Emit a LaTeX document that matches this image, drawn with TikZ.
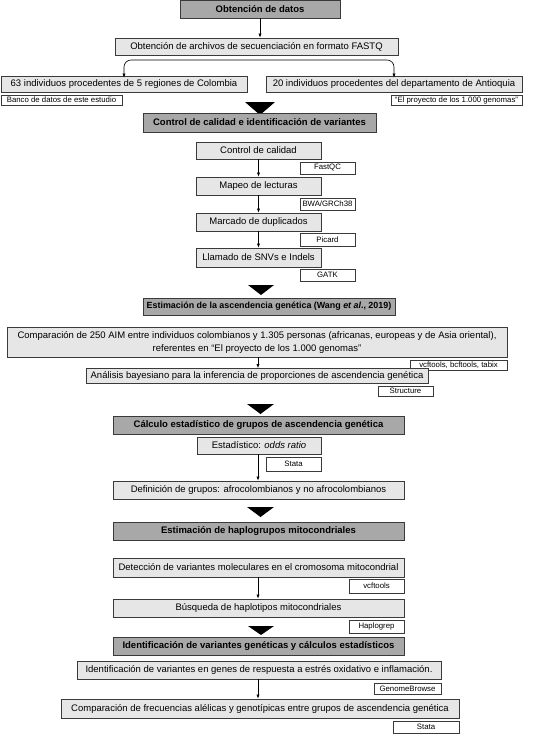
\documentclass[tikz,border=0pt]{standalone}
\usepackage{fontspec}
\setmainfont{Liberation Sans}
\usetikzlibrary{arrows.meta}
\definecolor{titlegray}{HTML}{A8A8A8}
\definecolor{procgray}{HTML}{E6E6E6}
\definecolor{edgegray}{HTML}{3A3A3A}
\begin{document}
\begin{tikzpicture}[x=1pt,y=-1pt,
  base/.style={draw=edgegray, line width=0.8pt, inner sep=0pt, align=center, anchor=center},
  titlebox/.style={base, fill=titlegray, font=\fontsize{9.5}{11}\selectfont\bfseries},
  procbox/.style={base, fill=procgray, font=\fontsize{9.5}{11}\selectfont},
  toolbox/.style={base, fill=white, line width=0.6pt, font=\fontsize{7.8}{9}\selectfont},
  conn/.style={draw=black, line width=0.6pt, -{Latex[length=4pt,width=3.2pt]}},
  bigarrow/.style={fill=black}
]
\useasboundingbox (0,0) rectangle (540,734);
\fill[white] (0,0) rectangle (540,734);

% Section 1
\node[titlebox, minimum width=160pt, minimum height=17.5pt] (T1) at (260,9.25) {Obtención de datos};
\node[procbox, minimum width=283pt, minimum height=17pt] (P1) at (256.5,46.5) {Obtención de archivos de secuenciación en formato FASTQ};
\node[procbox, minimum width=246pt, minimum height=16pt] (P2) at (124,84) {63 individuos procedentes de 5 regiones de Colombia};
\node[procbox, minimum width=256pt, minimum height=16pt] (P3) at (394,84) {20 individuos procedentes del departamento de Antioquia};
\node[toolbox, minimum width=121pt, minimum height=10pt] (B1) at (61.5,100) {Banco de datos de este estudio};
\node[toolbox, minimum width=131pt, minimum height=10pt] (B2) at (456.5,100) {“El proyecto de los 1.000 genomas”};
\coordinate (split) at (260,60);
\draw[conn] (T1.south) -- (T1.south |- P1.north);
\draw[draw=black, line width=0.6pt, {Latex[length=4pt,width=3.2pt]}-{Latex[length=4pt,width=3.2pt]}, rounded corners=7pt] ([yshift=-2pt]P2.north) |- (split) -| ([yshift=-2pt]P3.north);
\fill[bigarrow] (245,102) -- (275,102) -- (260,115) -- cycle;

% Section 2
\node[titlebox, minimum width=233pt, minimum height=19pt] (T2) at (259.5,122.5) {Control de calidad e identificación de variantes};
\node[procbox, minimum width=125pt, minimum height=17pt] (P4) at (258.5,150.5) {Control de calidad};
\node[toolbox, minimum width=55pt, minimum height=12pt] (B3) at (327.5,168) {FastQC};
\node[procbox, minimum width=125pt, minimum height=18pt] (P5) at (258.5,186) {Mapeo de lecturas};
\node[toolbox, minimum width=55pt, minimum height=12pt] (B4) at (327.5,204) {BWA/GRCh38};
\node[procbox, minimum width=125pt, minimum height=18pt] (P6) at (258.5,222) {Marcado de duplicados};
\node[toolbox, minimum width=55pt, minimum height=13pt] (B5) at (327.5,239.5) {Picard};
\node[procbox, minimum width=125pt, minimum height=19pt] (P7) at (258.5,257.5) {Llamado de SNVs e Indels};
\node[toolbox, minimum width=55pt, minimum height=12pt] (B6) at (327.5,275) {GATK};
\draw[conn] (P4.south) -- (P5.north);
\draw[conn] (P5.south) -- (P6.north);
\draw[conn] (P6.south) -- (P7.north);
\fill[bigarrow] (248,285) -- (274,285) -- (261,295) -- cycle;

% Section 3
\node[titlebox, minimum width=252pt, minimum height=17pt, font=\fontsize{8.9}{11}\selectfont\bfseries] (T3) at (269,306.5) {Estimación de la ascendencia genética (Wang \textit{et al}., 2019)};
\node[procbox, minimum width=500pt, minimum height=30pt, font=\fontsize{9.5}{13}\selectfont] (P8) at (257,342) {Comparación de 250 AIM entre individuos colombianos y 1.305 personas (africanas, europeas y de Asia oriental),\\referentes en “El proyecto de los 1.000 genomas”};
\node[toolbox, minimum width=97pt, minimum height=10pt] (B7) at (458.5,365) {vcftools, bcftools, tabix};
\node[procbox, minimum width=342pt, minimum height=15pt] (P9) at (257,376) {Análisis bayesiano para la inferencia de proporciones de ascendencia genética};
\node[toolbox, minimum width=55pt, minimum height=10pt] (B8) at (405.5,391) {Structure};
\draw[conn] (P8.south -| 258,0) -- (P9.north -| 258,0);
\fill[bigarrow] (247,404) -- (274,404) -- (260.5,414) -- cycle;

% Section 4
\node[titlebox, minimum width=291pt, minimum height=18pt] (T4) at (258.5,425) {Cálculo estadístico de grupos de ascendencia genética};
\node[procbox, minimum width=124pt, minimum height=17pt] (P10) at (259,445.5) {Estadístico: \textit{odds ratio}};
\node[toolbox, minimum width=55pt, minimum height=14pt] (B9) at (293.5,464) {Stata};
\node[procbox, minimum width=291pt, minimum height=18pt] (P11) at (258.5,490) {Definición de grupos: afrocolombianos y no afrocolombianos};
\draw[conn] (P10.south -| 258,0) -- (P11.north -| 258,0);
\fill[bigarrow] (247,507) -- (274,507) -- (260.5,517) -- cycle;

% Section 5
\node[titlebox, minimum width=291pt, minimum height=18pt] (T5) at (258.5,531) {Estimación de haplogrupos mitocondriales};
\node[procbox, minimum width=291pt, minimum height=19pt] (P12) at (258.5,567.5) {Detección de variantes moleculares en el cromosoma mitocondrial};
\node[toolbox, minimum width=55pt, minimum height=14pt] (B10) at (376.5,586) {vcftools};
\node[procbox, minimum width=291pt, minimum height=18pt] (P13) at (258.5,608) {Búsqueda de haplotipos mitocondriales};
\node[toolbox, minimum width=55pt, minimum height=13pt] (B11) at (376.5,626.5) {Haplogrep};
\draw[conn] (P12.south -| 258,0) -- (P13.north -| 258,0);
\fill[bigarrow] (248,626) -- (274,626) -- (261,635) -- cycle;

% Section 6
\node[titlebox, minimum width=291pt, minimum height=18pt] (T6) at (258.5,646) {Identificación de variantes genéticas y cálculos estadísticos};
\node[procbox, minimum width=364pt, minimum height=18pt] (P14) at (259,670) {Identificación de variantes en genes de respuesta a estrés oxidativo e inflamación.};
\node[toolbox, minimum width=67pt, minimum height=11pt] (B12) at (407.5,688.5) {GenomeBrowse};
\node[procbox, minimum width=398pt, minimum height=19pt] (P15) at (260,708.5) {Comparación de frecuencias alélicas y genotípicas entre grupos de ascendencia genética};
\node[toolbox, minimum width=66pt, minimum height=12pt] (B13) at (426,727) {Stata};
\draw[conn] (P14.south -| 258,0) -- (P15.north -| 258,0);
\end{tikzpicture}
\end{document}
